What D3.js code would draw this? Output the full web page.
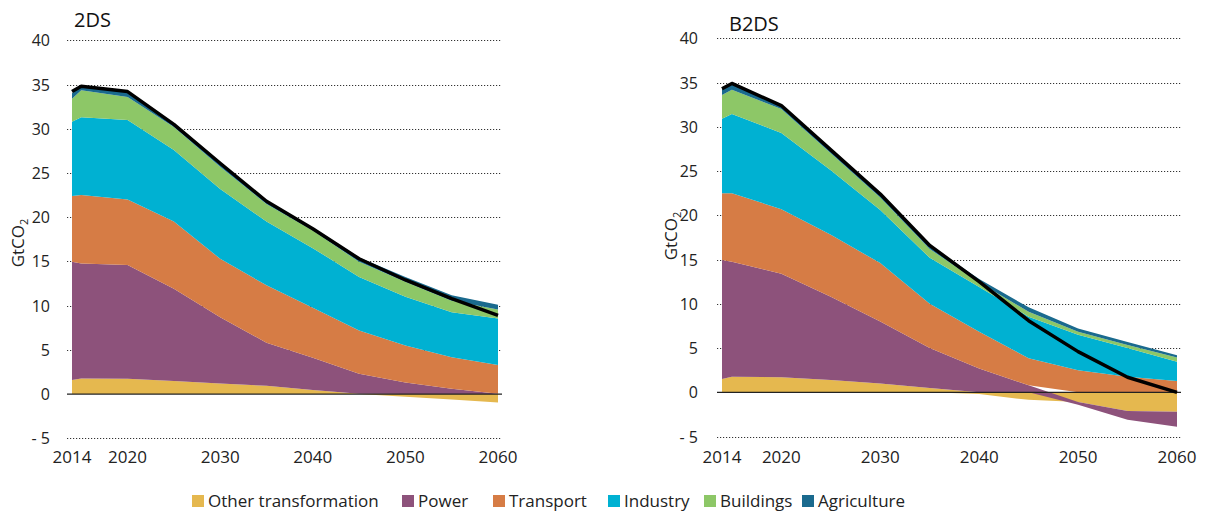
<!DOCTYPE html>
<html>
<head>
<meta charset="utf-8">
<script src="https://cdn.jsdelivr.net/npm/d3@7"></script>
<style>
    body { margin: 0; background: #fff; }
    svg { display: block; font-family: "Open Sans", "Noto Sans", sans-serif; }
    .grid line { stroke: #333; stroke-width: 1; stroke-dasharray: 1.2, 1.8; }
    .tick-label { font-size: 16px; fill: #222; }
    .year-label { font-size: 17px; fill: #222; }
    .title { font-size: 20px; fill: #111; }
    .legend text { font-size: 17px; fill: #222; }
</style>
</head>
<body>
<div id="chart"></div>
<script>
(function () {
    "use strict";

    const years = [2014, 2015, 2020, 2025, 2030, 2035, 2040, 2045, 2050, 2055, 2060];
    const sectors = ["Other transformation", "Power", "Transport", "Industry", "Buildings", "Agriculture"];
    const sectorColors = ["#e5b84f", "#8d527b", "#d67c45", "#00b1d2", "#8dc767", "#1a6a8e"];
    const yTicks = [-5, 0, 5, 10, 15, 20, 25, 30, 35, 40];
    const xTicks = [2014, 2020, 2030, 2040, 2050, 2060];

    // 2DS, GtCO2 per sector
    const twoDsOther = [1.6, 1.77, 1.73, 1.47, 1.2, 0.94, 0.45, 0.05, -0.3, -0.6, -0.95];
    const twoDsPower = [13.35, 13.0, 12.87, 10.43, 7.5, 4.86, 3.65, 2.25, 1.3, 0.6, 0.05];
    const twoDsTransport = [7.45, 7.74, 7.4, 7.6, 6.6, 6.5, 5.65, 4.9, 4.2, 3.56, 3.25];
    const twoDsIndustry = [8.4, 8.8, 9.0, 8.1, 7.9, 7.2, 6.75, 6.05, 5.5, 5.1, 5.25];
    const twoDsBuildings = [2.6, 3.05, 2.6, 2.6, 2.5, 2.0, 2.0, 1.7, 1.7, 1.3, 1.0];
    const twoDsAgriculture = [0.6, 0.45, 0.6, 0.35, 0.4, 0.4, 0.3, 0.5, 0.55, 0.6, 0.55];
    const twoDsTotal = [34.2, 34.8, 34.2, 30.5, 26.1, 21.8, 18.7, 15.3, 12.9, 10.8, 8.9];

    // B2DS, GtCO2 per sector
    const b2dsOther = [1.5, 1.76, 1.7, 1.4, 1.0, 0.5, -0.2, -0.85, -1.1, -2.1, -2.2];
    const b2dsPower = [13.45, 13.0, 11.7, 9.4, 7.0, 4.5, 2.7, 0.8, -0.3, -1.0, -1.7];
    const b2dsTransport = [7.55, 7.74, 7.3, 7.0, 6.6, 5.0, 4.15, 3.05, 2.5, 1.76, 1.28];
    const b2dsIndustry = [8.4, 8.95, 8.6, 7.3, 6.0, 5.2, 5.05, 4.7, 4.0, 3.24, 2.17];
    const b2dsBuildings = [2.7, 2.75, 2.7, 1.9, 1.4, 1.0, 0.5, 0.55, 0.35, 0.35, 0.5];
    const b2dsAgriculture = [0.7, 0.7, 0.45, 0.4, 0.4, 0.4, 0.4, 0.5, 0.35, 0.35, 0.25];
    const b2dsTotal = [34.3, 34.9, 32.4, 27.4, 22.4, 16.6, 12.5, 8.1, 4.6, 1.7, 0.0];

    function buildRows(columns) {
        return years.map((year, i) => {
            const row = { year };
            sectors.forEach((name, k) => { row[name] = columns[k][i]; });
            return row;
        });
    }

    const svg = d3.select("#chart").append("svg")
        .attr("width", 1208)
        .attr("height", 514);

    function drawPanel(opts) {
        const rows = buildRows(opts.columns);

        const x = d3.scaleLinear().domain([2014, 2060]).range(opts.xRange);
        const y = d3.scaleLinear().domain([-5, 40]).range(opts.yRange);

        const g = svg.append("g");
        const gridLeft = opts.xRange[0] - 5;
        const gridRight = opts.xRange[1] + 4;

        // dotted grid, behind the areas
        g.append("g").attr("class", "grid")
            .selectAll("line")
            .data(yTicks.filter(d => d !== 0))
            .join("line")
            .attr("x1", gridLeft)
            .attr("x2", gridRight)
            .attr("y1", d => Math.round(y(d)) + 0.5)
            .attr("y2", d => Math.round(y(d)) + 0.5);

        const stack = d3.stack()
            .keys(sectors)
            .offset(d3.stackOffsetDiverging);

        const area = d3.area()
            .x(d => x(d.data.year))
            .y0(d => y(d[0]))
            .y1(d => y(d[1]));

        g.append("g")
            .selectAll("path")
            .data(stack(rows))
            .join("path")
            .attr("fill", (d, i) => sectorColors[i])
            .attr("d", area);

        // zero line
        g.append("line")
            .attr("x1", gridLeft)
            .attr("x2", gridRight)
            .attr("y1", y(0))
            .attr("y2", y(0))
            .attr("stroke", "#222")
            .attr("stroke-width", 1.3);

        const line = d3.line()
            .x((d, i) => x(years[i]))
            .y(d => y(d));

        g.append("path")
            .attr("fill", "none")
            .attr("stroke", "#000")
            .attr("stroke-width", 3.5)
            .attr("stroke-linejoin", "round")
            .attr("d", line(opts.total));

        // y tick labels
        g.append("g")
            .selectAll("text")
            .data(yTicks)
            .join("text")
            .attr("class", "tick-label")
            .attr("x", opts.labelRight)
            .attr("y", d => y(d) + 6)
            .attr("text-anchor", "end")
            .text(d => d < 0 ? "- " + Math.abs(d) : d);

        // x tick labels
        g.append("g")
            .selectAll("text")
            .data(xTicks)
            .join("text")
            .attr("class", "year-label")
            .attr("x", d => x(d))
            .attr("y", 463)
            .attr("text-anchor", "middle")
            .text(d => d);

        const yTitle = g.append("text")
            .attr("transform", `translate(${opts.axisTitleX},${opts.axisTitleY}) rotate(-90)`)
            .attr("text-anchor", "middle")
            .style("font-size", "17px")
            .attr("fill", "#222");
        yTitle.append("tspan").text("GtCO");
        yTitle.append("tspan").attr("dy", 4).style("font-size", "11px").text("2");

        g.append("text")
            .attr("class", "title")
            .attr("x", opts.titleX)
            .attr("y", opts.titleY)
            .text(opts.title);
    }

    drawPanel({
        title: "2DS",
        titleX: 74,
        titleY: 27,
        columns: [twoDsOther, twoDsPower, twoDsTransport, twoDsIndustry, twoDsBuildings, twoDsAgriculture],
        total: twoDsTotal,
        xRange: [72, 498],
        yRange: [438.3, 40.3],
        labelRight: 50,
        axisTitleX: 24,
        axisTitleY: 243
    });

    drawPanel({
        title: "B2DS",
        titleX: 729,
        titleY: 31,
        columns: [b2dsOther, b2dsPower, b2dsTransport, b2dsIndustry, b2dsBuildings, b2dsAgriculture],
        total: b2dsTotal,
        xRange: [722, 1177],
        yRange: [436.6, 38.3],
        labelRight: 698,
        axisTitleX: 677,
        axisTitleY: 236
    });

    // legend
    const legendX = [192, 402, 493, 608, 704, 802];
    const legend = svg.append("g").attr("class", "legend");
    const item = legend.selectAll("g")
        .data(sectors)
        .join("g")
        .attr("transform", (d, i) => `translate(${legendX[i]},495)`);
    item.append("rect")
        .attr("width", 12)
        .attr("height", 12)
        .attr("fill", (d, i) => sectorColors[i]);
    item.append("text")
        .attr("x", 16)
        .attr("y", 12)
        .text(d => d);
}());
</script>
</body>
</html>
